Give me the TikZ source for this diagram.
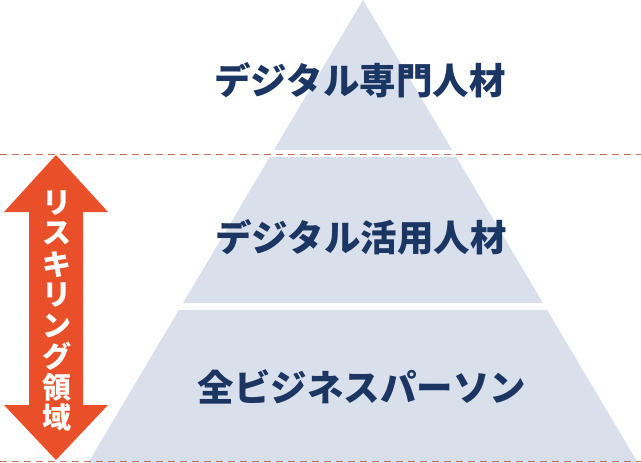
\documentclass[tikz,border=0pt]{standalone}
\usepackage{fontspec}
\usepackage{tikz}
\usepackage{xcolor}
\setmainfont{Noto Sans CJK JP}
\definecolor{pyrblue}{HTML}{D9E0EC}
\definecolor{navy}{HTML}{1C3663}
\definecolor{arroworange}{HTML}{E9502A}
\definecolor{dashred}{HTML}{C8705C}
\tikzset{
  level/.style={font=\bfseries\fontsize{36.5}{38}\selectfont,text=navy,inner sep=0pt},
  vchar/.style={font=\bfseries\fontsize{29}{31}\selectfont,text=white,inner sep=0pt},
  guide/.style={dashred,line width=0.9pt,dash pattern=on 7pt off 5pt}
}

\begin{document}
\begin{tikzpicture}[x=1pt,y=-1pt]
\useasboundingbox (0,0) rectangle (641,463);
% pyramid bands
\begin{scope}
\clip (363,0) -- (88,463) -- (638,463) -- cycle;
\fill[pyrblue] (0,0) rectangle (641,150);
\fill[pyrblue] (0,157) rectangle (641,303);
\fill[pyrblue] (0,310) rectangle (641,463);
\end{scope}
% guide lines
\coordinate (gl1) at (0,154);
\coordinate (gr1) at (641,154);
\coordinate (gl2) at (0,461);
\coordinate (gr2) at (641,461);
\draw[guide] (gl1) -- (gr1);
\draw[guide] (gl2) -- (gr2);
% double arrow
\fill[arroworange] (56,155) -- (108,212) -- (83,212) -- (83,405) -- (108,405)
  -- (56,460) -- (4,405) -- (29,405) -- (29,212) -- (4,212) -- cycle;
% arrow text
\foreach \c [count=\i] in {リ,ス,キ,リ,ン,グ,領,域}
  \node[vchar] (v\i) at (57,{203+30.7*(\i-1)}) {\c};
% labels
\node[level] (top) at (360,80) {デジタル専門人材};
\node[level] (mid) at (361,237) {デジタル活用人材};
\node[level] (base) at (362,387) {全ビジネスパーソン};
\end{tikzpicture}
\end{document}
